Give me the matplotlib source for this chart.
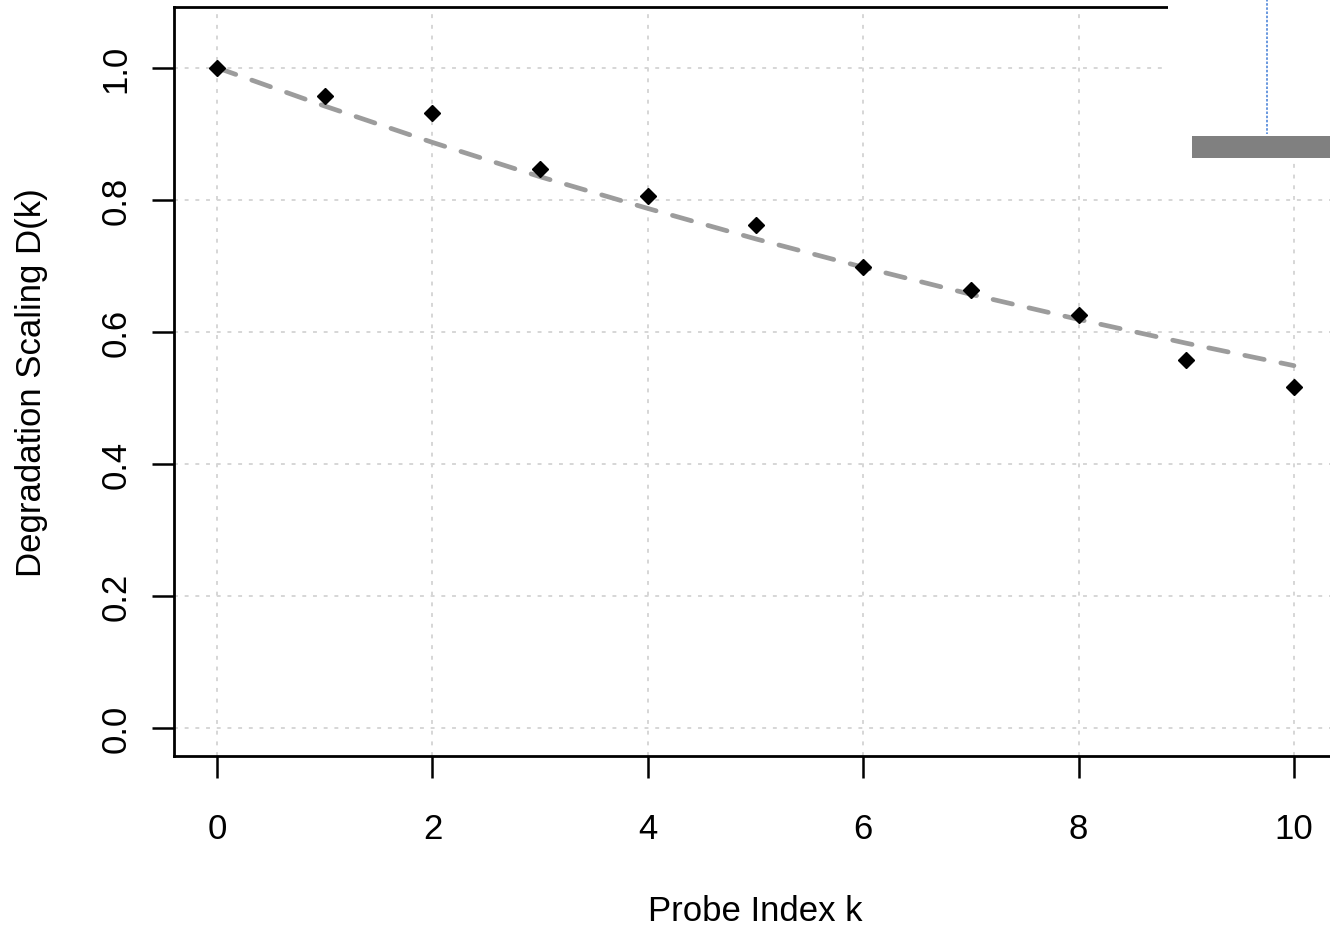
import matplotlib
matplotlib.use("Agg")
import matplotlib.pyplot as plt
from matplotlib.patches import Rectangle
from matplotlib.lines import Line2D

plt.rcParams['font.family'] = ['Liberation Sans', 'DejaVu Sans']

# Data
probe_k = [0, 1, 2, 3, 4, 5, 6, 7, 8, 9, 10]
degradation = [1.000, 0.958, 0.932, 0.847, 0.806, 0.762, 0.699, 0.664, 0.625, 0.557, 0.517]
fit_curve = [1.000, 0.942, 0.887, 0.835, 0.787, 0.741, 0.698, 0.657, 0.619, 0.583, 0.549]
x_ticks = [0, 2, 4, 6, 8, 10]
y_ticks = [0.0, 0.2, 0.4, 0.6, 0.8, 1.0]
y_tick_labels = ["0.0", "0.2", "0.4", "0.6", "0.8", "1.0"]

W, H = 1330, 928
fig = plt.figure(figsize=(W / 100, H / 100), dpi=100)

left_px, right_px, top_px, bottom_px = 174, 1337, 8, 757
ax = fig.add_axes([left_px / W, 1 - bottom_px / H, (right_px - left_px) / W, (bottom_px - top_px) / H])
ax.set_xlim(-0.4, 10.4)
ax.set_ylim(-0.042, 1.092)

ax.set_xticks(x_ticks)
ax.set_xticklabels([str(t) for t in x_ticks])
ax.set_yticks(y_ticks)
ax.set_yticklabels(y_tick_labels, rotation=90, va='center')

ax.grid(True, color='#d6d6d6', linestyle=(0, (2, 3.5)), linewidth=1.4)
ax.set_axisbelow(True)

ax.plot(probe_k, fit_curve, color='#9c9c9c', linewidth=3.4, linestyle=(0, (4.2, 3.6)),
        dash_capstyle='round', zorder=2)
ax.plot(probe_k, degradation, linestyle='none', marker='D', markersize=7.8,
        color='black', zorder=3)

for side in ['left', 'bottom', 'top']:
    ax.spines[side].set_linewidth(2.0)
    ax.spines[side].set_color('black')
ax.spines['right'].set_visible(False)

ax.tick_params(axis='both', which='major', length=16, width=1.8, labelsize=25,
               colors='black')
ax.tick_params(axis='x', pad=24)
ax.tick_params(axis='y', pad=14)

ax.set_xlabel('Probe Index k', fontsize=25, labelpad=35.5)
ax.set_ylabel('Degradation Scaling D(k)', fontsize=25, labelpad=37)

# overlay artifacts at the upper right corner
fig.patches.append(Rectangle((1168 / W, 1 - 137 / H), (W - 1168) / W, 137 / H,
                             transform=fig.transFigure, facecolor='white',
                             edgecolor='none', zorder=10))
fig.lines.append(Line2D([1267 / W, 1267 / W], [1.0, 1 - 135 / H],
                        transform=fig.transFigure, color='#4f86d9',
                        linewidth=1.2, linestyle=(0, (1.5, 1)), zorder=11))
fig.patches.append(Rectangle((1192 / W, 1 - 159 / H), (W - 1192) / W, 22 / H,
                             transform=fig.transFigure, facecolor='#808080',
                             edgecolor='none', zorder=12))

fig.savefig('out.png', dpi=100)
